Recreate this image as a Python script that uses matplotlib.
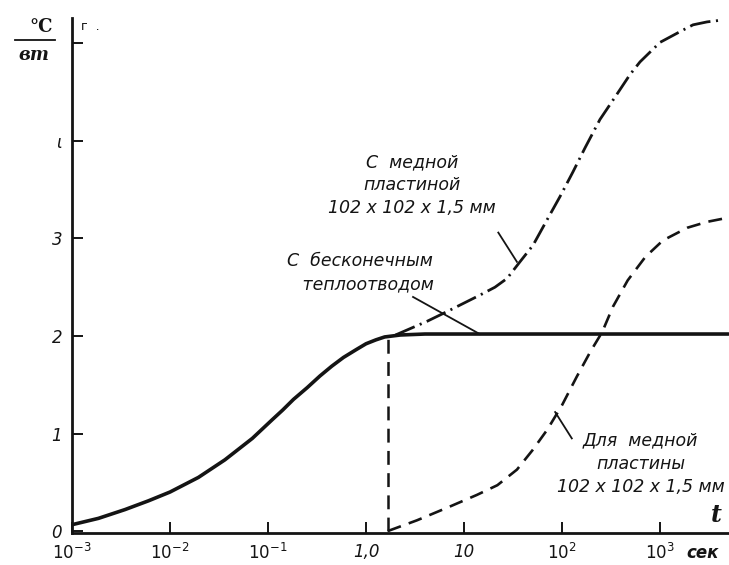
import matplotlib
matplotlib.use("Agg")
import matplotlib.pyplot as plt
import numpy as np

plt.rcParams['font.family'] = ['DejaVu Sans']
plt.rcParams['mathtext.default'] = 'it'
plt.rcParams['lines.scale_dashes'] = False

INK = '#141414'

# thermal resistance, °C/W, against time (s)
t_sink = [0.001, 0.00186, 0.00347, 0.00603, 0.01, 0.0195, 0.0363, 0.0692, 0.11,
          0.141, 0.182, 0.251, 0.339, 0.447, 0.589, 0.794, 1.0, 1.26, 1.55, 2.24,
          4.0, 5000]
r_sink = [0.065, 0.13, 0.22, 0.31, 0.40, 0.55, 0.73, 0.95, 1.14,
          1.24, 1.35, 1.47, 1.59, 1.69, 1.78, 1.86, 1.92, 1.96, 1.99, 2.01,
          2.02, 2.02]

t_split = 1.67

t_with_plate = [2.0, 4.19, 6.71, 14.6, 20.7, 27.5, 37.2, 50.6, 70.3, 95.5, 129,
                172, 244, 348, 494, 625, 1000, 1600, 2173, 3020, 4395]
r_with_plate = [2.01, 2.15, 2.25, 2.42, 2.50, 2.59, 2.76, 2.93, 3.19, 3.43, 3.68,
                3.93, 4.22, 4.45, 4.68, 4.81, 5.01, 5.12, 5.19, 5.22, 5.24]

t_plate = [t_split, 3.31, 6.76, 13.5, 21.9, 34.7, 50.1, 70.8, 100, 141, 195, 257,
           331, 468, 708, 1072, 1905, 3020, 4786]
r_plate = [0.0, 0.11, 0.24, 0.37, 0.47, 0.63, 0.83, 1.04, 1.29, 1.58, 1.84, 2.04,
           2.30, 2.57, 2.81, 2.98, 3.11, 3.17, 3.21]

x_ticks = [1e-3, 1e-2, 1e-1, 1.0, 10, 100, 1000]
x_labels = ['$10^{-3}$', '$10^{-2}$', '$10^{-1}$', '1,0', '10', '$10^{2}$', '$10^{3}$']
y_ticks = [0, 1, 2, 3, 4, 5]
y_labels = ['0', '1', '2', '3', 'ι', '']

fig = plt.figure(figsize=(7.29, 5.65), dpi=100)
ax = fig.add_axes([72 / 729, 32 / 565, 657 / 729, 515 / 565])
ax.set_xscale('log')
ax.set_xlim(1e-3, 10 ** 3.704)
ax.set_ylim(-0.02, 5.26)

for side in ('top', 'right'):
    ax.spines[side].set_visible(False)
for side in ('left', 'bottom'):
    ax.spines[side].set_linewidth(2.0)
    ax.spines[side].set_color(INK)

ax.set_xticks(x_ticks)
ax.set_xticklabels(x_labels, fontstyle='italic', fontsize=12)
ax.xaxis.set_minor_locator(matplotlib.ticker.NullLocator())
ax.set_yticks(y_ticks)
ax.set_yticklabels(y_labels, fontstyle='italic', fontsize=12)
ax.tick_params(axis='both', direction='in', length=8, width=1.4, colors=INK)
ax.tick_params(axis='x', pad=7)
ax.tick_params(axis='y', pad=7)

# curves
ax.plot(t_sink, r_sink, color=INK, lw=2.6, solid_capstyle='round',
        solid_joinstyle='round')
ax.plot(t_with_plate, r_with_plate, color=INK, lw=2.0,
        dashes=(15, 4, 1.5, 4))
ax.plot(t_plate, r_plate, color=INK, lw=1.9, dashes=(10, 6))
ax.plot([t_split, t_split], [0, 1.98], color=INK, lw=1.8, dashes=(10, 6))

# captions and leaders
txt = dict(fontstyle='italic', fontsize=12.5, color=INK, ha='center', va='center',
           linespacing=1.35)
ax.text(10 ** 0.47, 3.55, 'С  медной\nпластиной\n102 x 102 x 1,5 мм', **txt)
ax.text(10 ** -0.06, 2.65, 'С  бесконечным\n   теплоотводом', **txt)
ax.text(10 ** 2.80, 0.69, 'Для  медной\nпластины\n102 x 102 x 1,5 мм', **txt)

lead = dict(color=INK, lw=1.3)
ax.plot([10 ** 1.35, 10 ** 1.54], [3.06, 2.76], **lead)
ax.plot([10 ** 0.48, 10 ** 1.16], [2.40, 2.02], **lead)
ax.plot([10 ** 2.10, 10 ** 1.93], [0.95, 1.22], **lead)

# axis names
fig.text(716 / 729, 1 - 515 / 565, 't', fontsize=17, fontweight='bold',
         fontstyle='italic', family='DejaVu Serif', color=INK, ha='center', va='center')
fig.text(703 / 729, 1 - 553 / 565, 'сек', fontsize=12, fontweight='bold',
         fontstyle='italic', color=INK, ha='center', va='center')
fig.text(41 / 729, 1 - 27 / 565, '°C', fontsize=13, fontweight='bold',
         family='DejaVu Serif', color=INK, ha='center', va='center')
fig.add_artist(plt.Line2D([15 / 729, 55 / 729], [1 - 40 / 565, 1 - 40 / 565],
                          color=INK, lw=1.3))
fig.text(34 / 729, 1 - 55 / 565, 'вт', fontsize=13, fontweight='bold',
         fontstyle='italic', family='DejaVu Serif', color=INK, ha='center', va='center')
fig.text(90 / 729, 1 - 27 / 565, 'г  .', fontsize=9, color=INK, ha='center', va='center')

fig.savefig('out.png', dpi=100, facecolor='white')
